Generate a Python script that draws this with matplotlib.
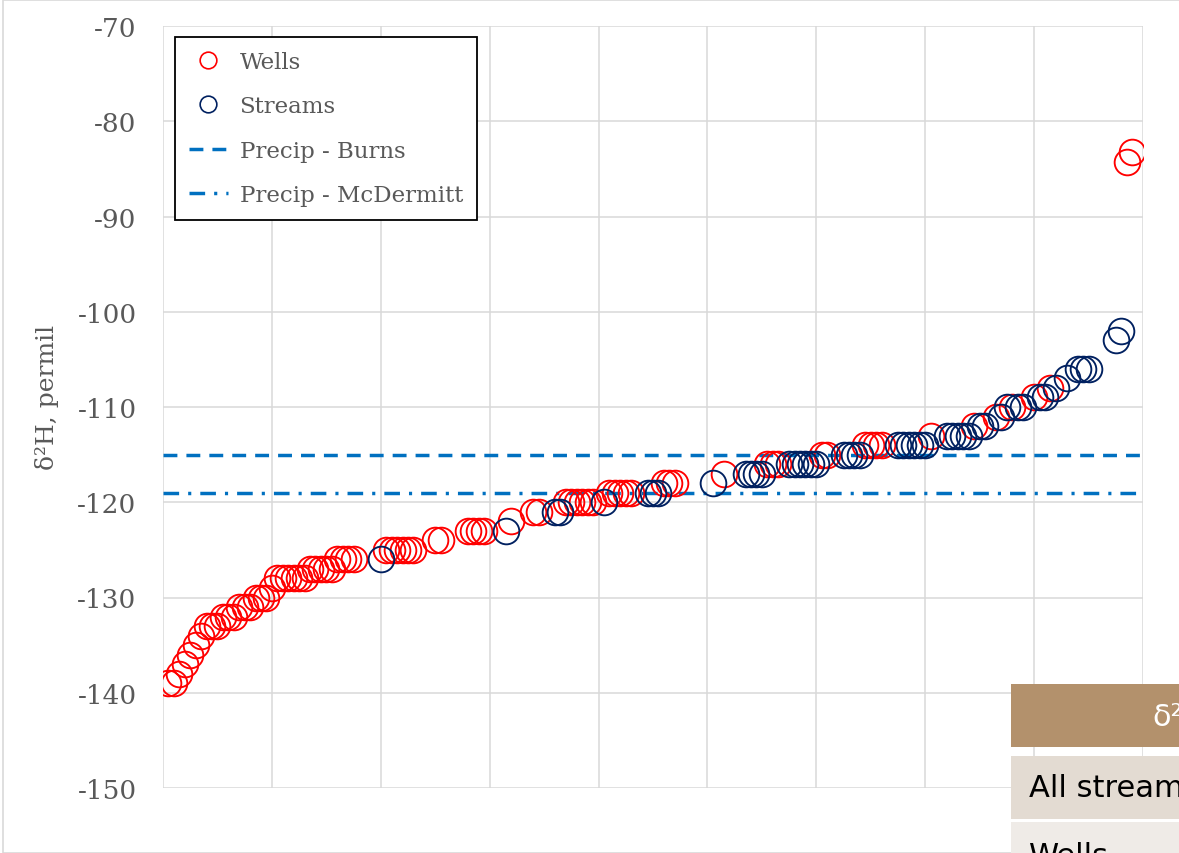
import matplotlib.pyplot as plt
from matplotlib.lines import Line2D
from matplotlib.patches import Rectangle

plt.rcParams['axes.unicode_minus'] = False

# sorted deuterium values, x = sample rank
wells_x = [1, 2, 3, 4, 5, 6, 7, 8, 9, 10,
           11, 12, 13, 14, 15, 16, 17, 18, 19, 20,
           21, 22, 23, 24, 25, 26, 27, 28, 29, 30, 31,
           32, 33, 34, 35, 41, 42, 43, 44, 45, 46,
           50, 51, 56, 57, 58, 59, 64, 68, 69,
           74, 75, 76, 77, 78, 79, 82, 83, 84, 85, 86,
           92, 93, 94, 103, 111, 112, 113, 121, 122,
           129, 130, 131, 132, 141, 149, 153, 156, 160, 163,
           177, 178]
wells_d2h = [-139, -139, -138, -137, -136, -135, -134, -133, -133, -133,
             -132, -132, -132, -131, -131, -131, -130, -130, -130, -129,
             -128, -128, -128, -128, -128, -128, -127, -127, -127, -127, -127,
             -126, -126, -126, -126, -125, -125, -125, -125, -125, -125,
             -124, -124, -123, -123, -123, -123, -122, -121, -121,
             -120, -120, -120, -120, -120, -120, -119, -119, -119, -119, -119,
             -118, -118, -118, -117, -116, -116, -116, -115, -115,
             -114, -114, -114, -114, -113, -112, -111, -110, -109, -108,
             -84.3, -83.2]

streams_x = [40, 63, 72, 73, 81, 89, 90, 91, 101,
             107, 108, 109, 110, 115, 116, 117, 118, 119, 120,
             125, 126, 127, 128, 135, 136, 137, 138, 139, 140,
             144, 145, 146, 147, 148, 150, 151, 154, 155, 157, 158,
             161, 162, 164, 166, 168, 169, 170, 175, 176]
streams_d2h = [-126, -123, -121, -121, -120, -119, -119, -119, -118,
               -117, -117, -117, -117, -116, -116, -116, -116, -116, -116,
               -115, -115, -115, -115, -114, -114, -114, -114, -114, -114,
               -113, -113, -113, -113, -113, -112, -112, -111, -110, -110, -110,
               -109, -109, -108, -107, -106, -106, -106, -103, -102]

precip_burns = -115
precip_mcdermitt = -119

table_header = "δ²H"
table_rows = ["All streams", "Wells"]

W, H = 1179, 854
fig = plt.figure(figsize=(W / 100, H / 100), dpi=100)
ax = fig.add_axes([163 / W, 1 - 789 / H, (1143 - 163) / W, (789 - 27) / H])

grey = '#595959'
red, navy, blue = '#ff0000', '#002060', '#0070c0'
burns_dash = (4, 2.6)
mcd_dash = (4.5, 2.6, 0.9, 2.6)

ax.plot(wells_x, wells_d2h, linestyle='none', marker='o', markersize=18.5,
        markerfacecolor='none', markeredgecolor=red, markeredgewidth=1.35, zorder=3)
ax.plot(streams_x, streams_d2h, linestyle='none', marker='o', markersize=18.5,
        markerfacecolor='none', markeredgecolor=navy, markeredgewidth=1.35, zorder=3)
ax.axhline(precip_burns, color=blue, lw=2.5, dashes=burns_dash, zorder=2)
ax.axhline(precip_mcdermitt, color=blue, lw=2.5, dashes=mcd_dash, zorder=2)

ax.set_xlim(0, 180)
ax.set_ylim(-150, -70)
ax.set_xticks(range(0, 181, 20))
ax.set_yticks(range(-150, -69, 10))
ax.tick_params(axis='x', length=0, labelbottom=False)
ax.tick_params(axis='y', length=0, pad=19, labelsize=19, labelcolor=grey)
for lab in ax.get_yticklabels():
    lab.set_family('DejaVu Serif')
ax.grid(True, color='#d9d9d9', lw=1.1)
ax.set_axisbelow(True)
for s in ax.spines.values():
    s.set_visible(False)

fig.text(47 / W, 1 - 397 / H, 'δ²H, permil', rotation=90, ha='center', va='center',
         fontsize=18, color=grey, family='DejaVu Serif')

handles = [
    Line2D([], [], linestyle='none', marker='o', markersize=12, markerfacecolor='none',
           markeredgecolor=red, markeredgewidth=1.2),
    Line2D([], [], linestyle='none', marker='o', markersize=12, markerfacecolor='none',
           markeredgecolor=navy, markeredgewidth=1.2),
    Line2D([], [], color=blue, lw=2.5, dashes=burns_dash),
    Line2D([], [], color=blue, lw=2.5, dashes=mcd_dash),
]
leg = ax.legend(handles, ['Wells', 'Streams', 'Precip - Burns', 'Precip - McDermitt'],
                loc='upper left', bbox_to_anchor=((175 - 163) / 980, 1 - (38 - 27) / 762),
                borderaxespad=0, frameon=True, fancybox=False, framealpha=1,
                edgecolor='black', prop={'family': 'DejaVu Serif', 'size': 16.5},
                labelcolor=grey, handlelength=1.7, handletextpad=0.52,
                labelspacing=0.98, borderpad=0.6)
leg.get_frame().set_linewidth(1.3)

# outer chart border and the summary table peeking in at the lower right
fig.patches.append(Rectangle((3 / W, 0), 2, 1 - 1 / H, transform=fig.transFigure,
                             fill=False, edgecolor='#d9d9d9', lw=1.2))
row_tops = [685, 757, 823]
row_bots = [748, 820, 890]
row_cols = ['#b3916c', '#e3dbd2', '#efebe7']
for top, bot, col in zip(row_tops, row_bots, row_cols):
    fig.patches.append(Rectangle((1011 / W, 1 - bot / H), (W - 1011) / W, (bot - top) / H,
                                 transform=fig.transFigure, facecolor=col,
                                 edgecolor='none', zorder=5))
fig.text(1152 / W, 1 - 717 / H, table_header, color='white', fontsize=22,
         family='DejaVu Sans', ha='left', va='center', zorder=6)
for top, bot, txt in zip(row_tops[1:], row_bots[1:], table_rows):
    fig.text(1029 / W, 1 - (top + bot) / 2 / H, txt, color='black', fontsize=22,
             family='DejaVu Sans', ha='left', va='center', zorder=6)

fig.savefig('out.png', dpi=100)
